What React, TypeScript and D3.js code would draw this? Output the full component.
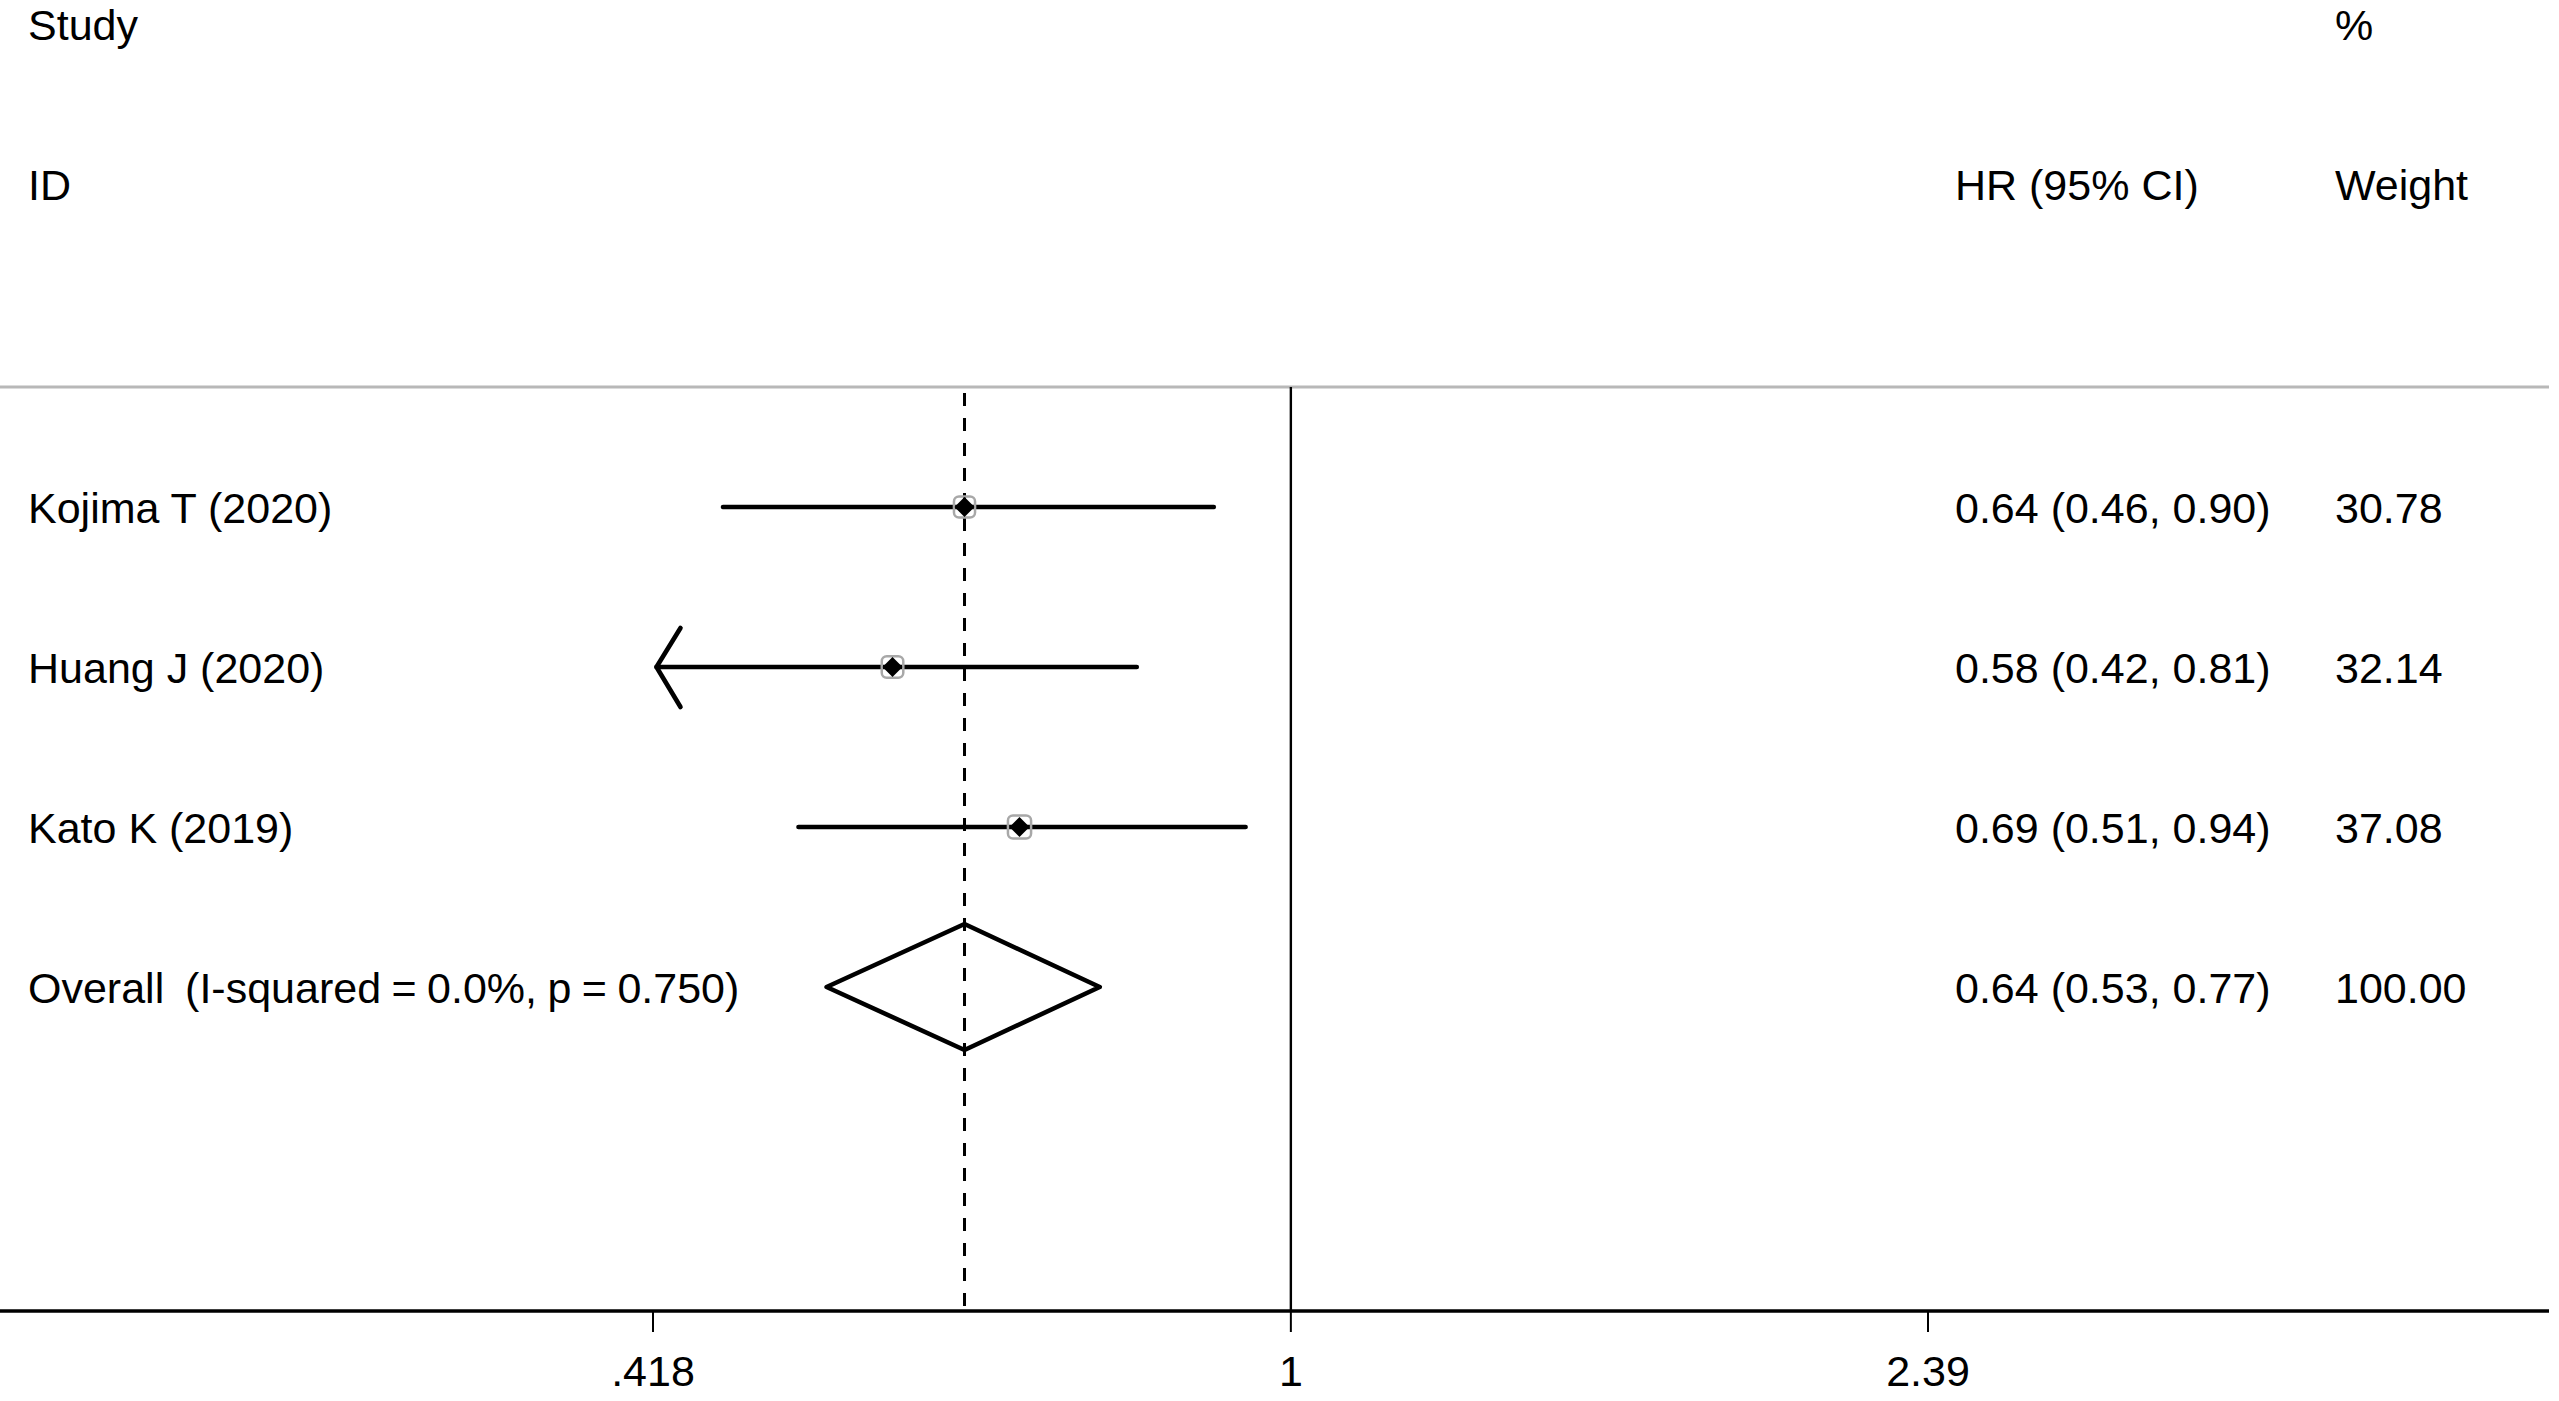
import React from "react";
import * as d3 from "d3";

// Study-level hazard ratios with 95% confidence intervals
const studies = ["Kojima T (2020)", "Huang J (2020)", "Kato K (2019)"];
const hr = [0.64, 0.58, 0.69];
const lower = [0.46, 0.42, 0.51];
const upper = [0.9, 0.81, 0.94];
const weights = [30.78, 32.14, 37.08];

// Pooled estimate
const overallLabel = "Overall  (I-squared = 0.0%, p = 0.750)";
const overallHr = 0.64;
const overallLower = 0.53;
const overallUpper = 0.77;
const overallWeight = 100.0;

// Axis ticks
const tickValues = [0.418, 1, 2.39];
const tickLabels = [".418", "1", "2.39"];

const W = 2559;
const H = 1401;
const FONT = "'Liberation Sans', Arial, Helvetica, sans-serif";
const FS = 43;

export default function App() {
  React.useEffect(() => {
    document.body.style.margin = "0";
    document.body.style.overflow = "hidden";
  }, []);

  const x = d3.scaleLog().domain([0.418, 2.39]).range([653, 1928]);
  const rowY = d3
    .scalePoint<number>()
    .domain([0, 1, 2, 3])
    .range([507, 987]);

  const headerLineY = 387;
  const axisY = 1311;
  const colHr = 1955;
  const colW = 2335;
  const labelX = 28;

  const fmt2 = d3.format(".2f");
  const ciText = (h: number, l: number, u: number) =>
    `${fmt2(h)} (${fmt2(l)}, ${fmt2(u)})`;

  const axisMin = x.domain()[0];
  const boxSide = (w: number) => Math.sqrt(w) * 3.8;

  const diamond = (cx: number, cy: number, r: number) =>
    `M${cx - r},${cy}L${cx},${cy - r}L${cx + r},${cy}L${cx},${cy + r}Z`;

  const textStyle = { whiteSpace: "pre" as const, wordSpacing: "-1.5px" };

  return (
    <div style={{ position: "absolute", left: 0, top: 0 }}>
      <svg width={W} height={H} viewBox={`0 0 ${W} ${H}`} style={{ display: "block", background: "#fff" }}>
        <g fontFamily={FONT} fontSize={FS} fill="#000">
          <text x={labelX} y={40}>Study</text>
          <text x={labelX} y={200}>ID</text>
          <text x={colHr} y={200}>HR (95% CI)</text>
          <text x={colW} y={40}>%</text>
          <text x={colW} y={200}>Weight</text>
        </g>

        {/* header separator */}
        <line x1={0} x2={2549} y1={headerLineY} y2={headerLineY} stroke="#b8b8b8" strokeWidth={3} />

        {/* null line at HR = 1 */}
        <line x1={x(1)} x2={x(1)} y1={headerLineY} y2={axisY} stroke="#000" strokeWidth={2.4} />

        {/* pooled estimate reference line */}
        <line
          x1={x(overallHr)}
          x2={x(overallHr)}
          y1={headerLineY + 6}
          y2={axisY}
          stroke="#000"
          strokeWidth={3}
          strokeDasharray="13 12"
        />

        {studies.map((s, i) => {
          const cy = rowY(i) as number;
          const clipped = Math.abs(lower[i] - axisMin) < 0.005;
          const x0 = x(lower[i]);
          const side = boxSide(weights[i]);
          return (
            <g key={s}>
              <line x1={x0} x2={x(upper[i])} y1={cy} y2={cy} stroke="#000" strokeWidth={4.6} strokeLinecap="round" />
              {clipped && (
                <path
                  d={`M${x0 + 24},${cy - 39}L${x0},${cy}L${x0 + 24},${cy + 40}`}
                  fill="none"
                  stroke="#000"
                  strokeWidth={4.6}
                  strokeLinecap="round"
                  strokeLinejoin="round"
                />
              )}
              <rect
                x={x(hr[i]) - side / 2}
                y={cy - side / 2}
                width={side}
                height={side}
                rx={5}
                fill="none"
                stroke="#a8a8a8"
                strokeWidth={2.5}
              />
              <path d={diamond(x(hr[i]), cy, 10)} fill="#000" />
              <text x={labelX} y={cy + 16} fontFamily={FONT} fontSize={FS}>{s}</text>
              <text x={colHr} y={cy + 16} fontFamily={FONT} fontSize={FS}>
                {ciText(hr[i], lower[i], upper[i])}
              </text>
              <text x={colW} y={cy + 16} fontFamily={FONT} fontSize={FS}>{fmt2(weights[i])}</text>
            </g>
          );
        })}

        {/* overall diamond */}
        {(() => {
          const cy = rowY(3) as number;
          const h = 63;
          return (
            <g>
              <path
                d={`M${x(overallLower)},${cy}L${x(overallHr)},${cy - h}L${x(overallUpper)},${cy}L${x(overallHr)},${cy + h}Z`}
                fill="none"
                stroke="#000"
                strokeWidth={4.6}
                strokeLinejoin="round"
              />
              <text x={labelX} y={cy + 16} fontFamily={FONT} fontSize={FS} style={textStyle}>{overallLabel}</text>
              <text x={colHr} y={cy + 16} fontFamily={FONT} fontSize={FS}>
                {ciText(overallHr, overallLower, overallUpper)}
              </text>
              <text x={colW} y={cy + 16} fontFamily={FONT} fontSize={FS}>{fmt2(overallWeight)}</text>
            </g>
          );
        })()}

        {/* x axis */}
        <line x1={0} x2={2549} y1={axisY} y2={axisY} stroke="#000" strokeWidth={3.5} />
        {tickValues.map((t, i) => (
          <g key={t}>
            <line x1={x(t)} x2={x(t)} y1={axisY} y2={axisY + 21} stroke="#000" strokeWidth={2} />
            <text
              x={x(t)}
              y={1386}
              textAnchor="middle"
              fontFamily={FONT}
              fontSize={FS}
            >
              {tickLabels[i]}
            </text>
          </g>
        ))}
      </svg>
    </div>
  );
}
